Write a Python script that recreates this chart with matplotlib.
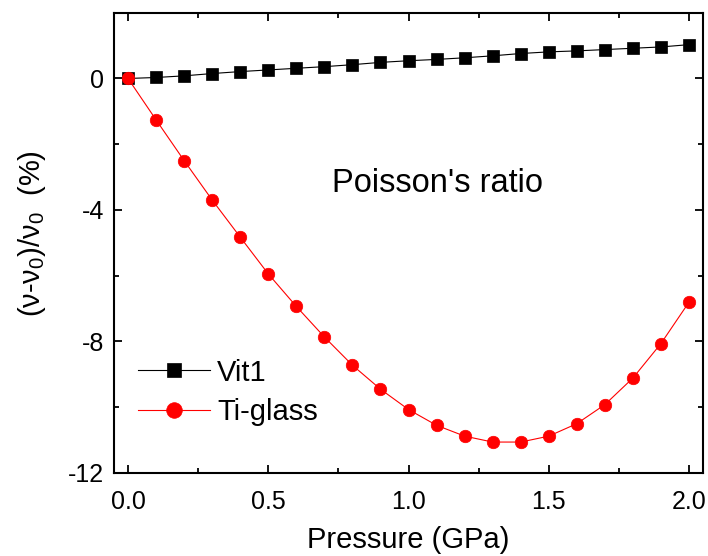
import matplotlib
matplotlib.use('Agg')
import matplotlib.pyplot as plt
from matplotlib.ticker import MultipleLocator

# pressure (GPa)
pressure = [0.0, 0.1, 0.2, 0.3, 0.4, 0.5, 0.6, 0.7, 0.8, 0.9, 1.0,
            1.1, 1.2, 1.3, 1.4, 1.5, 1.6, 1.7, 1.8, 1.9, 2.0]
# relative change of Poisson's ratio (%)
vit1 = [0.0, 0.03, 0.08, 0.15, 0.21, 0.26, 0.31, 0.36, 0.42, 0.49, 0.54,
        0.58, 0.63, 0.69, 0.76, 0.81, 0.84, 0.88, 0.92, 0.96, 1.03]
ti_glass = [0.0, -1.26, -2.50, -3.70, -4.83, -5.95, -6.94, -7.87, -8.73, -9.46, -10.08,
            -10.56, -10.89, -11.07, -11.07, -10.89, -10.51, -9.93, -9.12, -8.07, -6.81]

plt.rcParams['font.family'] = ['Liberation Sans', 'DejaVu Sans']
plt.rcParams['mathtext.fontset'] = 'custom'
plt.rcParams['mathtext.rm'] = 'Liberation Sans'
plt.rcParams['mathtext.it'] = 'Liberation Sans'

fig = plt.figure(figsize=(7.08, 5.56), dpi=100)
ax = fig.add_axes([0.161, 0.150, 0.832, 0.827])

ax.plot(pressure, vit1, color='black', lw=0.8, marker='s', ms=8,
        mec='black', mew=0.5, mfc='black', label='Vit1')
ax.plot(pressure, ti_glass, color='red', lw=0.8, marker='o', ms=9,
        mec='red', mew=0.5, mfc='red', label='Ti-glass')

ax.set_xlim(-0.05, 2.05)
ax.set_ylim(-12, 2)
ax.xaxis.set_major_locator(MultipleLocator(0.5))
ax.xaxis.set_minor_locator(MultipleLocator(0.25))
ax.yaxis.set_major_locator(MultipleLocator(4))
ax.yaxis.set_minor_locator(MultipleLocator(2))
ax.xaxis.set_major_formatter(plt.FuncFormatter(lambda v, p: '%.1f' % v))
ax.yaxis.set_major_formatter(plt.FuncFormatter(lambda v, p: '%d' % v))

ax.tick_params(which='both', direction='in', top=True, right=True, width=1.3)
ax.tick_params(which='major', length=6, labelsize=18)
ax.tick_params(axis='x', which='major', pad=12.5)
ax.tick_params(axis='y', which='major', pad=7)
ax.tick_params(which='minor', length=3.5)
for s in ax.spines.values():
    s.set_linewidth(1.5)

ax.set_xlabel('Pressure (GPa)', fontsize=21, labelpad=9)
ax.set_ylabel(r'$(\nu$-$\nu_0)/\nu_0$  (%)', fontsize=21)
ax.yaxis.set_label_coords(-0.112, 0.521)

ax.text(0.728, -3.2, "Poisson's ratio", fontsize=23.5, ha='left', va='center')

ax.legend(loc='upper left', bbox_to_anchor=(0.041, 0.248), frameon=False,
          borderpad=0, borderaxespad=0, fontsize=21, markerscale=1.25,
          handlelength=2.46, handletextpad=0.24, labelspacing=0.4)

fig.savefig('out.png', dpi=100)
